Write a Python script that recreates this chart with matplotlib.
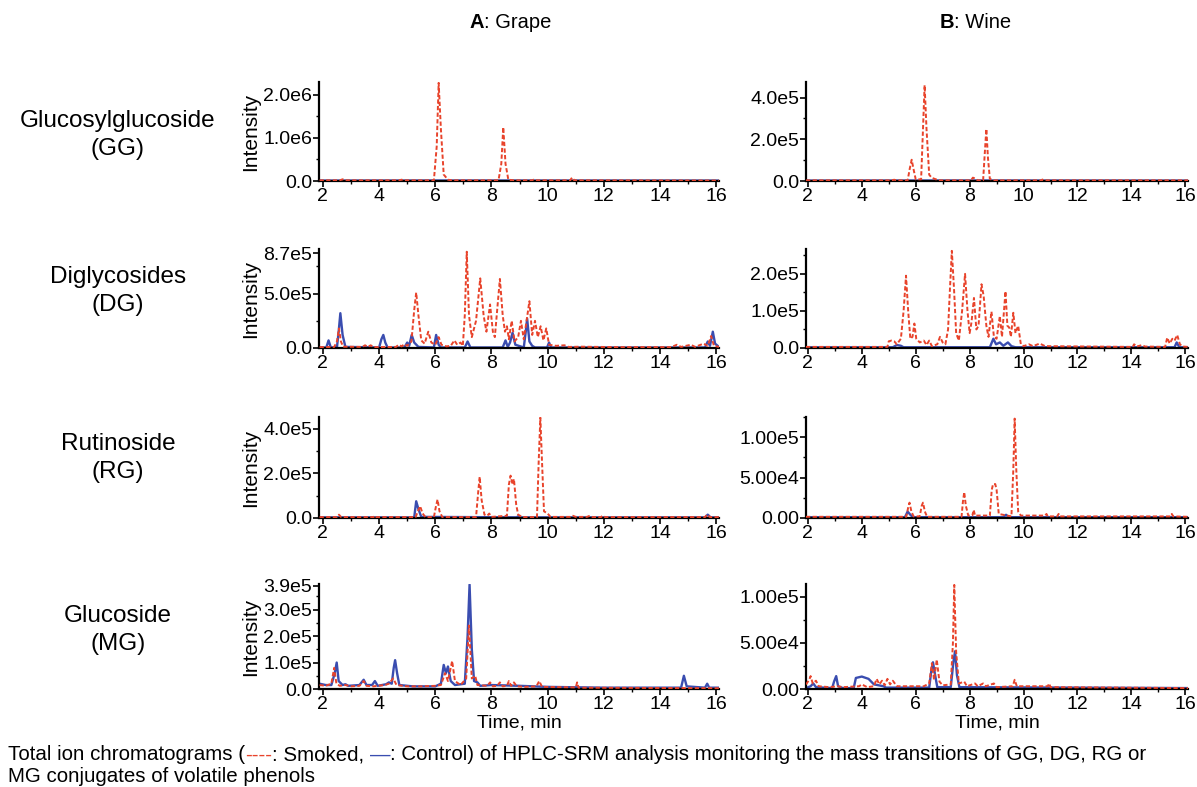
import matplotlib
matplotlib.use("Agg")
import matplotlib.pyplot as plt
from matplotlib.ticker import FixedLocator, MultipleLocator
from matplotlib.offsetbox import TextArea, HPacker, AnchoredOffsetbox

plt.rcParams['font.family'] = ['Liberation Sans', 'DejaVu Sans']

RED = '#e8432b'
BLUE = '#3a4db0'

# ---- traces: (time min, intensity) ----
grape_gg_smoked = [(1.88, 1.5e4), (2.6, 1.5e4), (2.7, 4e4), (2.8, 1.5e4), (4.7, 1.5e4), (4.8, 3e4), (4.9, 1.5e4),
                   (5.95, 1.5e4), (6.05, 8e5), (6.12, 2.28e6), (6.2, 1.2e6), (6.3, 1.5e5), (6.45, 3e4), (6.6, 1.5e4),
                   (8.25, 1.5e4), (8.35, 4e5), (8.42, 1.25e6), (8.5, 4e5), (8.6, 3e4), (8.8, 1.5e4), (9.45, 1.5e4),
                   (9.5, 3e4), (9.55, 1.5e4), (10.8, 1.5e4), (10.87, 8e4), (10.95, 1.5e4), (16.1, 1e4)]
grape_gg_control = [(1.88, 1e4), (6.1, 1.2e4), (16.1, 1e4)]

wine_gg_smoked = [(1.93, 3e3), (5.1, 3e3), (5.2, 6e3), (5.3, 3e3), (5.7, 3e3), (5.78, 6e4), (5.85, 1.02e5),
                  (5.93, 5e4), (6.0, 8e3), (6.2, 8e3), (6.27, 2.5e5), (6.33, 4.6e5), (6.4, 2.5e5), (6.5, 3e4),
                  (6.6, 1.5e4), (6.75, 8e3), (6.9, 3e3), (8.05, 3e3), (8.12, 1.6e4), (8.2, 1.2e4), (8.3, 3e3),
                  (8.5, 3e3), (8.56, 1.3e5), (8.62, 2.5e5), (8.68, 1.1e5), (8.75, 1e4), (8.9, 3e3), (10.0, 3e3),
                  (10.05, 7e3), (10.1, 3e3), (10.65, 3e3), (10.7, 7e3), (10.75, 3e3), (16.1, 3e3)]
wine_gg_control = [(1.93, 2e3), (8.0, 2.5e3), (16.1, 2e3)]

grape_dg_smoked = [(1.88, 8e3), (2.4, 1e4), (2.5, 6e4), (2.57, 1.8e5), (2.64, 6e4), (2.72, 1.2e4), (3.4, 1e4),
                   (3.5, 2.5e4), (3.6, 1e4), (3.7, 2.5e4), (3.8, 8e3), (4.6, 1e4), (4.7, 3e4), (4.8, 1.5e4),
                   (4.9, 3.5e4), (5.0, 2e4), (5.15, 6e4), (5.25, 3.5e5), (5.32, 5.1e5), (5.4, 3e5), (5.5, 7e4),
                   (5.62, 4e4), (5.75, 1.5e5), (5.86, 5e4), (6.0, 3e4), (6.12, 1e5), (6.22, 3e4), (6.4, 1.5e4),
                   (6.55, 2e4), (6.68, 7e4), (6.78, 3e4), (6.9, 5e4), (6.98, 2e4), (7.05, 3e5), (7.12, 8.85e5),
                   (7.2, 3e5), (7.3, 1e5), (7.45, 2.5e5), (7.6, 6.4e5), (7.72, 3e5), (7.82, 1.5e5), (7.95, 4.0e5),
                   (8.05, 1.5e5), (8.12, 1e5), (8.22, 4e5), (8.3, 6.35e5), (8.4, 3e5), (8.48, 1.5e5), (8.55, 2e5),
                   (8.62, 8e4), (8.72, 2.5e5), (8.82, 6e4), (8.95, 1e5), (9.05, 2.5e5), (9.15, 8e4), (9.25, 2.5e5),
                   (9.35, 4.3e5), (9.45, 1.2e5), (9.55, 2.5e5), (9.65, 1e5), (9.75, 2e5), (9.85, 7e4), (9.95, 1.8e5),
                   (10.05, 3e4), (10.3, 2e4), (10.6, 2.5e4), (10.75, 1e4), (11.2, 1.2e4), (12.5, 8e3), (14.4, 8e3),
                   (14.6, 3e4), (14.75, 1e4), (15.1, 3e4), (15.25, 1e4), (15.55, 4e4), (15.7, 2e4), (15.82, 1.1e5),
                   (15.92, 2e4), (16.1, 1e4)]
grape_dg_control = [(1.88, 5e3), (2.12, 5e3), (2.2, 7e4), (2.28, 5e3), (2.5, 8e3), (2.56, 1.5e5), (2.62, 3.2e5),
                    (2.7, 1.2e5), (2.8, 1e4), (4.0, 5e3), (4.08, 8e4), (4.15, 1.2e5), (4.22, 5e4), (4.3, 5e3),
                    (4.9, 5e3), (5.0, 5e4), (5.07, 2e4), (5.16, 1.2e5), (5.25, 5e4), (5.4, 1e4), (5.95, 5e3),
                    (6.03, 1.2e5), (6.12, 3e4), (6.2, 5e3), (7.05, 5e3), (7.15, 6e4), (7.25, 5e3), (8.4, 5e3),
                    (8.5, 7e4), (8.58, 1e4), (8.66, 5e4), (8.75, 1.4e5), (8.85, 3e4), (9.15, 5e3), (9.22, 1.5e5),
                    (9.27, 2.7e5), (9.35, 6e4), (9.45, 2e4), (9.55, 5e3), (9.98, 5e3), (10.05, 5e4), (10.12, 5e3),
                    (15.6, 5e3), (15.7, 6e4), (15.78, 2e4), (15.88, 1.5e5), (15.96, 4e4), (16.1, 1e4)]

wine_dg_smoked = [(1.93, 3e3), (4.95, 3e3), (5.0, 1.8e4), (5.1, 2e4), (5.2, 1.8e4), (5.3, 1e4), (5.45, 2.5e4),
                  (5.55, 1e5), (5.64, 1.95e5), (5.72, 1e5), (5.8, 2.5e4), (5.88, 3e4), (5.95, 6.6e4), (6.02, 2.5e4),
                  (6.15, 1.5e4), (6.3, 2e4), (6.4, 8e3), (6.5, 2e4), (6.6, 5e3), (6.8, 1e4), (6.9, 3e4), (7.0, 1.5e4),
                  (7.1, 1e4), (7.2, 5e4), (7.27, 1.6e5), (7.34, 2.62e5), (7.42, 1.6e5), (7.5, 4e4), (7.6, 2e4),
                  (7.72, 1e5), (7.83, 2.0e5), (7.92, 1e5), (8.0, 4e4), (8.07, 7e4), (8.16, 1.35e5), (8.25, 5e4),
                  (8.33, 6e4), (8.44, 1.72e5), (8.52, 1.4e5), (8.62, 6e4), (8.7, 3e4), (8.81, 9.8e4), (8.9, 3e4),
                  (9.0, 2.5e4), (9.12, 8.6e4), (9.2, 3e4), (9.33, 1.53e5), (9.4, 6e4), (9.47, 5.5e4), (9.53, 3e4),
                  (9.62, 9.5e4), (9.7, 4e4), (9.8, 6e4), (9.9, 1e4), (10.0, 5e3), (10.2, 1e4), (10.35, 5e3),
                  (10.6, 1.2e4), (10.8, 5e3), (14.05, 3e3), (14.1, 1e4), (14.2, 4e3), (14.4, 8e3), (14.5, 4e3),
                  (15.25, 3e3), (15.33, 2.8e4), (15.42, 1.2e4), (15.52, 2.5e4), (15.6, 2e4), (15.7, 3.5e4),
                  (15.8, 1e4), (15.9, 4e3), (16.1, 3e3)]
wine_dg_control = [(1.93, 2e3), (5.15, 2e3), (5.3, 8e3), (5.45, 6e3), (5.55, 2e3), (8.75, 2e3), (8.88, 2.5e4),
                   (8.98, 1e4), (9.12, 1.5e4), (9.25, 6e3), (9.42, 1.5e4), (9.55, 5e3), (9.7, 2e3), (15.6, 2e3),
                   (15.68, 1.5e4), (15.78, 2e3), (16.1, 2e3)]

grape_rg_smoked = [(1.88, 4e3), (2.5, 4e3), (2.57, 1.5e4), (2.65, 4e3), (3.8, 4e3), (3.85, 1e4), (3.9, 4e3),
                   (5.3, 4e3), (5.38, 3e4), (5.46, 5.3e4), (5.55, 2e4), (5.65, 4e3), (5.95, 4e3), (6.02, 5e4),
                   (6.08, 8.3e4), (6.15, 3e4), (6.25, 4e3), (7.45, 4e3), (7.53, 1.2e5), (7.58, 1.85e5), (7.65, 8e4),
                   (7.75, 1.5e4), (7.85, 1e4), (7.92, 2e4), (8.0, 5e3), (8.55, 1e4), (8.62, 1.5e5), (8.68, 1.9e5),
                   (8.75, 1.5e5), (8.8, 1.75e5), (8.88, 6e4), (8.95, 1.5e4), (9.1, 4e3), (9.62, 4e3), (9.68, 2.5e5),
                   (9.74, 4.5e5), (9.8, 2.5e5), (9.87, 3e4), (10.0, 2e4), (10.1, 5e3), (10.8, 5e3), (10.9, 1e4),
                   (11.0, 5e3), (11.4, 5e3), (11.5, 1e4), (11.6, 4e3), (11.9, 4e3), (11.95, 1e4), (12.05, 4e3),
                   (15.6, 4e3), (15.68, 1.5e4), (15.78, 4e3), (16.1, 4e3)]
grape_rg_control = [(1.88, 3e3), (5.25, 3e3), (5.32, 7.5e4), (5.4, 4e4), (5.5, 5e3), (8.9, 3e3), (8.95, 8e3),
                    (9.0, 3e3), (15.6, 3e3), (15.7, 1.5e4), (15.8, 3e3), (16.1, 3e3)]

wine_rg_smoked = [(1.93, 1.5e3), (5.65, 1.5e3), (5.72, 1.3e4), (5.77, 1.9e4), (5.84, 8e3), (5.92, 2e3), (6.15, 2e3),
                  (6.22, 1.5e4), (6.27, 1.9e4), (6.34, 8e3), (6.42, 1.5e3), (7.7, 1.5e3), (7.75, 2e4), (7.8, 3.2e4),
                  (7.86, 1.5e4), (7.95, 3e3), (8.1, 3e3), (8.15, 1e4), (8.2, 3e3), (8.75, 3e3), (8.82, 3.5e4),
                  (8.87, 4.2e4), (8.95, 4.2e4), (9.0, 3.5e4), (9.08, 5e3), (9.55, 2e3), (9.62, 6e4), (9.67, 1.23e5),
                  (9.73, 6e4), (9.8, 8e3), (9.9, 3e3), (10.8, 3e3), (10.85, 5e3), (10.9, 2e3), (11.25, 2e3),
                  (11.3, 5e3), (11.35, 2e3), (15.45, 2e3), (15.5, 5e3), (15.55, 2e3), (16.1, 1.5e3)]
wine_rg_control = [(1.93, 1e3), (5.6, 1e3), (5.7, 8e3), (5.8, 4e3), (5.9, 1e3), (9.25, 1e3), (9.35, 4e3),
                   (9.45, 1e3), (16.1, 1e3)]

grape_mg_smoked = [(1.88, 1.5e4), (2.1, 1.2e4), (2.3, 2e4), (2.4, 8e4), (2.48, 2e4), (2.6, 1.2e4), (2.8, 1.5e4),
                   (3.0, 1e4), (3.3, 1.2e4), (3.45, 3e4), (3.55, 1.2e4), (3.8, 1e4), (4.2, 1.5e4), (4.35, 2e4),
                   (4.5, 4e4), (4.62, 1.5e4), (5.0, 1e4), (5.5, 1e4), (6.0, 1.2e4), (6.2, 1.5e4), (6.35, 6e4),
                   (6.45, 3e4), (6.6, 1.06e5), (6.7, 3e4), (6.9, 1.5e4), (7.1, 4e4), (7.2, 2.4e5), (7.3, 4e4),
                   (7.42, 5e4), (7.5, 1.5e4), (7.85, 1.2e4), (7.95, 2.5e4), (8.05, 1e4), (8.2, 1.2e4), (8.3, 2.5e4),
                   (8.4, 1e4), (8.55, 1.2e4), (8.62, 3e4), (8.7, 1.2e4), (8.8, 2.5e4), (8.9, 1e4), (9.2, 8e3),
                   (9.6, 1e4), (9.7, 3e4), (9.8, 8e3), (10.5, 7e3), (11.0, 6e3), (11.05, 2.5e4), (11.1, 5e3),
                   (16.1, 3e3)]
grape_mg_control = [(1.88, 2e4), (2.1, 1.5e4), (2.3, 1.5e4), (2.42, 6e4), (2.49, 1.0e5), (2.56, 3e4), (2.7, 1.5e4),
                    (2.8, 1.8e4), (2.9, 1.2e4), (3.3, 1.5e4), (3.45, 3.5e4), (3.55, 1.5e4), (3.75, 1.5e4),
                    (3.85, 3e4), (3.95, 1.2e4), (4.25, 1.8e4), (4.35, 2.5e4), (4.45, 2e4), (4.52, 8e4),
                    (4.57, 1.09e5), (4.64, 6e4), (4.72, 1.5e4), (5.2, 1e4), (6.0, 1e4), (6.2, 2e4), (6.3, 9.1e4),
                    (6.38, 6e4), (6.45, 8.5e4), (6.55, 3e4), (6.7, 1.5e4), (7.05, 2e4), (7.15, 2e5), (7.22, 3.95e5),
                    (7.3, 1.5e5), (7.38, 3e4), (7.5, 2.5e4), (7.6, 1.2e4), (8.0, 1.5e4), (9.0, 1.2e4), (10.0, 8e3),
                    (12.0, 5e3), (14.75, 5e3), (14.85, 5e4), (14.95, 1e4), (15.6, 5e3), (15.68, 2e4), (15.75, 5e3),
                    (16.1, 5e3)]

wine_mg_smoked = [(1.93, 5e3), (2.05, 1e4), (2.1, 1.4e4), (2.18, 6e3), (2.3, 9e3), (2.4, 3e3), (2.8, 2e3),
                  (3.1, 3e3), (3.3, 2e3), (3.9, 3e3), (4.0, 5e3), (4.2, 2e3), (4.45, 3e3), (4.55, 1.1e4), (4.65, 5e3),
                  (4.75, 9e3), (4.85, 4e3), (4.95, 1.1e4), (5.05, 5e3), (5.15, 9e3), (5.3, 3e3), (6.3, 3e3),
                  (6.5, 6e3), (6.6, 2.8e4), (6.68, 1e4), (6.78, 3.2e4), (6.88, 8e3), (7.0, 4e3), (7.3, 5e3),
                  (7.38, 5e4), (7.43, 1.13e5), (7.5, 4e4), (7.6, 6e3), (7.8, 8e3), (7.9, 3e3), (8.2, 6e3), (8.3, 3e3),
                  (8.5, 6e3), (8.6, 3e3), (8.9, 6e3), (9.0, 2e3), (9.6, 3e3), (9.67, 1e4), (9.75, 3e3), (10.9, 3e3),
                  (10.95, 6e3), (11.0, 2e3), (16.1, 1e3)]
wine_mg_control = [(1.93, 1e3), (2.1, 3e3), (2.2, 6e3), (2.3, 2e3), (2.9, 1e3), (2.97, 8e3), (3.05, 1.4e4),
                   (3.12, 3e3), (3.3, 1e3), (3.7, 1e3), (3.78, 1.2e4), (4.0, 1.35e4), (4.25, 1.1e4), (4.45, 5e3),
                   (4.8, 3e3), (4.9, 1.5e3), (6.5, 1.5e3), (6.58, 2e4), (6.64, 2.9e4), (6.72, 1.5e4), (6.8, 2e3),
                   (7.3, 2e3), (7.4, 3e4), (7.46, 4.1e4), (7.53, 1.5e4), (7.62, 2e3), (16.1, 1e3)]

row_names = ['Glucosylglucoside\n(GG)', 'Diglycosides\n(DG)', 'Rutinoside\n(RG)', 'Glucoside\n(MG)']

# y axis: limit top, major ticks, tick labels, minor step
grape_ymax = [2.3e6, 9.1e5, 4.53e5, 3.97e5]
grape_yticks = [[0, 1e6, 2e6], [0, 5e5, 8.7e5], [0, 2e5, 4e5], [0, 1e5, 2e5, 3e5, 3.9e5]]
grape_ylabels = [['0.0', '1.0e6', '2.0e6'], ['0.0', '5.0e5', '8.7e5'], ['0.0', '2.0e5', '4.0e5'],
                 ['0.0', '1.0e5', '2.0e5', '3.0e5', '3.9e5']]
grape_minor = [5e5, 2.5e5, 1e5, 5e4]

wine_ymax = [4.75e5, 2.67e5, 1.25e5, 1.14e5]
wine_yticks = [[0, 2e5, 4e5], [0, 1e5, 2e5], [0, 5e4, 1e5], [0, 5e4, 1e5]]
wine_ylabels = [['0.0', '2.0e5', '4.0e5'], ['0.0', '1.0e5', '2.0e5'], ['0.00', '5.00e4', '1.00e5'],
                ['0.00', '5.00e4', '1.00e5']]
wine_minor = [1e5, 5e4, 2.5e4, 2.5e4]

grape_traces = [(grape_gg_smoked, grape_gg_control), (grape_dg_smoked, grape_dg_control),
                (grape_rg_smoked, grape_rg_control), (grape_mg_smoked, grape_mg_control)]
wine_traces = [(wine_gg_smoked, wine_gg_control), (wine_dg_smoked, wine_dg_control),
               (wine_rg_smoked, wine_rg_control), (wine_mg_smoked, wine_mg_control)]

W, H = 1197, 787
fig = plt.figure(figsize=(W / 100, H / 100), dpi=100)

# pixel boxes of the panels (top, bottom of plot area)
rows_px = [(82, 181), (249, 348), (417, 518), (584, 689)]
cols_px = [(319, 719, 1.86), (806, 1188, 1.93)]


def add_panel(col, row, traces, ymax, yticks, ylabels, minor, ylabel):
    x0, x1, xmin = cols_px[col]
    top, bot = rows_px[row]
    ax = fig.add_axes([x0 / W, 1 - bot / H, (x1 - x0) / W, (bot - top) / H])
    smoked, control = traces
    ax.plot([p[0] for p in smoked], [p[1] for p in smoked], color=RED, lw=1.4,
            dashes=(2.2, 1.2), zorder=3)
    ax.plot([p[0] for p in control], [p[1] for p in control], color=BLUE, lw=1.7, zorder=2)
    ax.set_xlim(xmin, 16.1)
    ax.set_ylim(0, ymax)
    for s in ['top', 'right']:
        ax.spines[s].set_visible(False)
    for s in ['left', 'bottom']:
        ax.spines[s].set_linewidth(1.6)
    ax.xaxis.set_major_locator(FixedLocator(range(2, 17, 2)))
    ax.xaxis.set_minor_locator(MultipleLocator(1))
    ax.yaxis.set_major_locator(FixedLocator(yticks))
    ax.set_yticklabels(ylabels)
    ax.yaxis.set_minor_locator(MultipleLocator(minor))
    ax.tick_params(axis='both', which='major', labelsize=14, length=4, width=1.2, pad=1)
    ax.tick_params(axis='both', which='minor', length=2.5, width=1)
    if ylabel:
        ax.set_ylabel('Intensity', fontsize=15, labelpad=2)
    if row == 3:
        ax.set_xlabel('Time, min', fontsize=14, labelpad=1)
    return ax


for r in range(4):
    add_panel(0, r, grape_traces[r], grape_ymax[r], grape_yticks[r], grape_ylabels[r], grape_minor[r], True)
    add_panel(1, r, wine_traces[r], wine_ymax[r], wine_yticks[r], wine_ylabels[r], wine_minor[r], False)

row_label_y = [135, 291, 458, 630]
for name, yy in zip(row_names, row_label_y):
    fig.text(118 / W, 1 - yy / H, name, ha='center', va='center', fontsize=17.5, linespacing=1.3)


def anchored_row(parts, xy, loc, fontsize, family=None):
    kids = []
    for txt, color, weight in parts:
        props = dict(color=color, fontsize=fontsize, fontweight=weight)
        if family:
            props['family'] = family
        kids.append(TextArea(txt, textprops=props))
    box = HPacker(children=kids, align='baseline', pad=0, sep=0)
    ab = AnchoredOffsetbox(loc=loc, child=box, pad=0, borderpad=0, frameon=False,
                           bbox_to_anchor=(xy[0] / W, 1 - xy[1] / H), bbox_transform=fig.transFigure)
    fig.add_artist(ab)


anchored_row([('A', 'black', 'bold'), (': Grape', 'black', 'normal')], (510, 22), 'center', 14.5)
anchored_row([('B', 'black', 'bold'), (': Wine', 'black', 'normal')], (975, 22), 'center', 14.5)

anchored_row([('Total ion chromatograms (', 'black', 'normal'), ('----', RED, 'normal'),
              (': Smoked, ', 'black', 'normal'), ('\u2014', BLUE, 'normal'),
              (': Control) of HPLC-SRM analysis monitoring the mass transitions of GG, DG, RG or', 'black', 'normal')],
             (8, 755), 'center left', 14.8)
anchored_row([('MG conjugates of volatile phenols', 'black', 'normal')], (8, 776), 'center left', 14.8)

fig.savefig('out.png', dpi=100)
